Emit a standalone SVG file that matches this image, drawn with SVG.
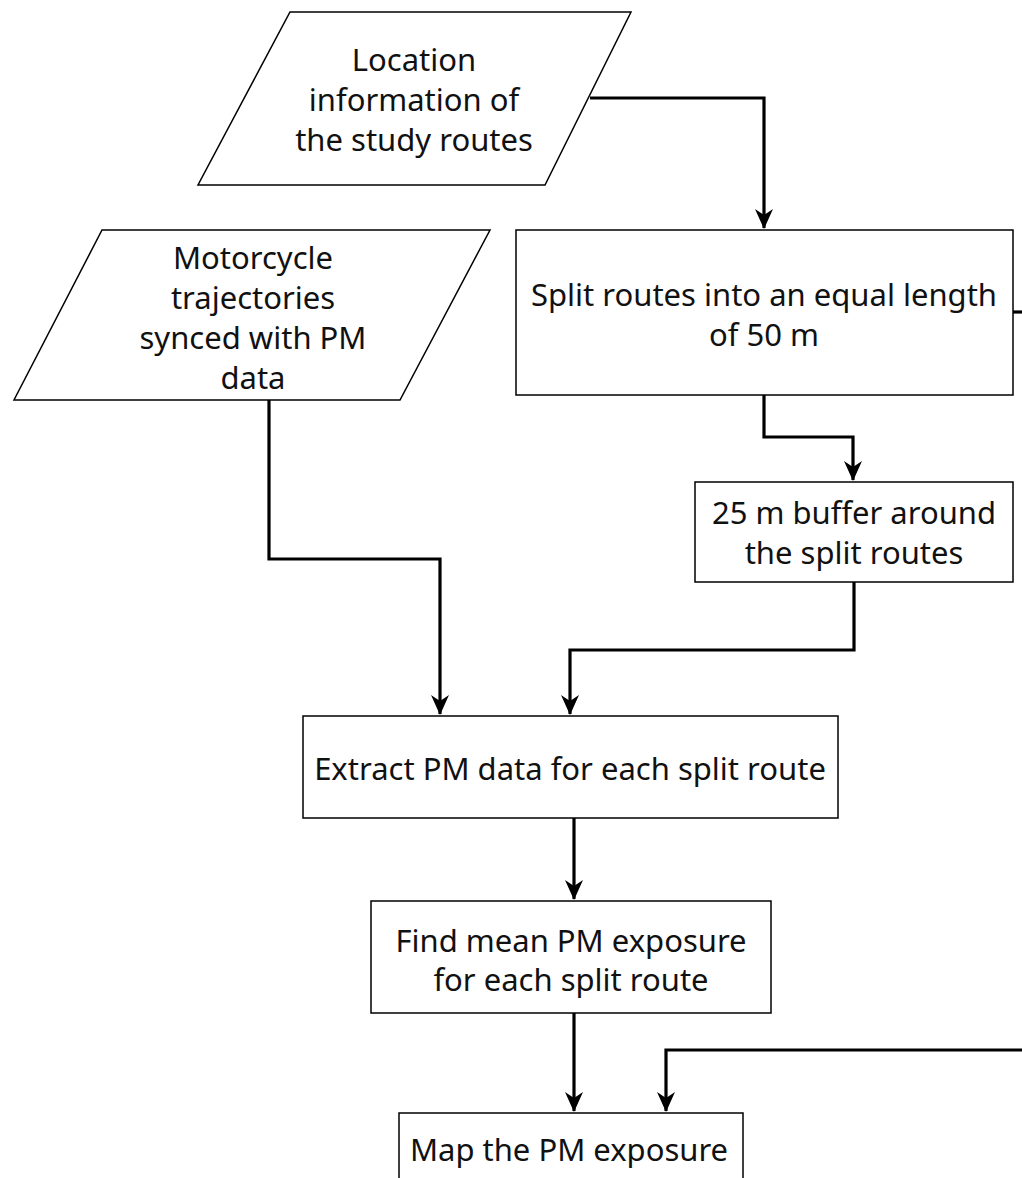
<svg xmlns="http://www.w3.org/2000/svg" width="1022" height="1178" viewBox="0 0 1022 1178">
<style>
.n{fill:#fff;stroke:#000;stroke-width:1.5}
.t{font-family:"Noto Sans","Open Sans","DejaVu Sans",sans-serif;font-size:31px;fill:#111;text-anchor:middle}
.c{fill:none;stroke:#000;stroke-width:3.2;stroke-linejoin:miter}
</style>
<defs>
<marker id="ah" markerUnits="userSpaceOnUse" viewBox="0 0 20 20" markerWidth="20" markerHeight="20" refX="19" refY="10" orient="auto">
<path d="M0,1 L20,10 L0,19 L6,10 z" fill="#000"/>
</marker>
</defs>
<rect width="1022" height="1178" fill="#fff"/>
<g id="connectors">
<path class="c" d="M590,98 H764 V228" marker-end="url(#ah)"/>
<path class="c" d="M764,395 V437 H853 V480" marker-end="url(#ah)"/>
<path class="c" d="M854,582 V650 H570 V714" marker-end="url(#ah)"/>
<path class="c" d="M269,400 V559 H440 V714" marker-end="url(#ah)"/>
<path class="c" d="M574,818 V899" marker-end="url(#ah)"/>
<path class="c" d="M574,1013 V1111" marker-end="url(#ah)"/>
<path class="c" d="M1022,1050 H666 V1111" marker-end="url(#ah)"/>
<path class="c" d="M1013,312 H1022"/>
</g>
<g id="n1">
<polygon class="n" points="290,12 631,12 545,185 198,185"/>
<text class="t" x="414" y="71">Location</text>
<text class="t" x="414" y="111">information of</text>
<text class="t" x="414" y="151">the study routes</text>
</g>
<g id="n2">
<polygon class="n" points="102,230 490,230 400,400 14,400"/>
<text class="t" x="253" y="269">Motorcycle</text>
<text class="t" x="253" y="309">trajectories</text>
<text class="t" x="253" y="349">synced with PM</text>
<text class="t" x="253" y="389">data</text>
</g>
<g id="n3">
<rect class="n" x="516" y="230" width="497" height="165"/>
<text class="t" x="764" y="306">Split routes into an equal length</text>
<text class="t" x="764" y="346">of 50 m</text>
</g>
<g id="n4">
<rect class="n" x="695" y="482" width="318" height="100"/>
<text class="t" x="854" y="524">25 m buffer around</text>
<text class="t" x="854" y="564">the split routes</text>
</g>
<g id="n5">
<rect class="n" x="303" y="716" width="535" height="102"/>
<text class="t" x="570" y="780">Extract PM data for each split route</text>
</g>
<g id="n6">
<rect class="n" x="371" y="901" width="400" height="112"/>
<text class="t" x="571" y="952">Find mean PM exposure</text>
<text class="t" x="571" y="991">for each split route</text>
</g>
<g id="n7">
<rect class="n" x="399" y="1113" width="344" height="80"/>
<text class="t" x="569" y="1161">Map the PM exposure</text>
</g>
</svg>
